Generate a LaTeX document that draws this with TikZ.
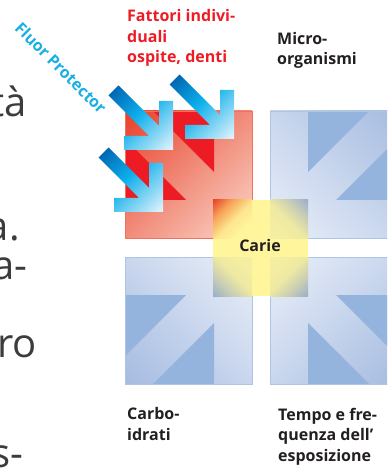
\documentclass[tikz,border=0pt]{standalone}
\usepackage{fontspec}
\setmainfont{Open Sans}
\definecolor{fred}{HTML}{ED1C24}
\definecolor{fcyan}{HTML}{1BAEE6}
\definecolor{fblack}{HTML}{231F20}
\definecolor{fgray}{HTML}{3C3C3C}
\definecolor{rlight}{HTML}{FBD8CB}
\definecolor{rdark}{HTML}{E8412B}
\definecolor{rborder}{HTML}{F2705E}
\definecolor{blight}{HTML}{EBF0F9}
\definecolor{bdark}{HTML}{A6BCE1}
\definecolor{btri}{HTML}{95B4DD}
\definecolor{bborder}{HTML}{AFC5E6}
\definecolor{yel}{HTML}{FFF59D}
\definecolor{yelb}{HTML}{F4EEA2}
\definecolor{ycr}{HTML}{E9452B}
\definecolor{yor}{HTML}{F7A55A}
\definecolor{ymr}{HTML}{FDE58E}
\definecolor{ycb}{HTML}{9BAFC8}
\definecolor{yob}{HTML}{C8CDB5}
\definecolor{ymb}{HTML}{EDE8A3}
\definecolor{fpdark}{HTML}{0068B4}
\definecolor{fpcyan}{HTML}{0DB0EC}
\definecolor{fpmid}{HTML}{5CC8F0}
\definecolor{fplight}{HTML}{EAF7FD}
\pgfdeclarehorizontalshading{fluorsh}{100bp}{color(0bp)=(fpdark); color(20bp)=(fpdark); color(47bp)=(fpcyan); color(60bp)=(fpmid); color(86bp)=(fplight); color(100bp)=(fplight)}
\pgfdeclarehorizontalshading{redsh}{100bp}{color(0bp)=(rlight); color(15bp)=(rlight); color(85bp)=(rdark); color(100bp)=(rdark)}
\pgfdeclarehorizontalshading{bluesh}{100bp}{color(0bp)=(blight); color(15bp)=(blight); color(85bp)=(bdark); color(100bp)=(bdark)}
\pgfdeclarehorizontalshading{yredsh}{100bp}{color(0bp)=(ycr); color(15bp)=(ycr); color(33bp)=(yor); color(52bp)=(ymr); color(70bp)=(yel); color(100bp)=(yel)}
\pgfdeclarehorizontalshading{yblsh}{100bp}{color(0bp)=(ycb); color(15bp)=(ycb); color(33bp)=(yob); color(52bp)=(ymb); color(70bp)=(yelb); color(100bp)=(yelb)}
\newcommand\labfont{\fontsize{16bp}{20.5bp}\selectfont\bfseries}
\tikzset{
  lab/.style={inner sep=0pt, anchor=base west, align=left, font=\labfont, text=fblack},
  frag/.style={inner sep=0pt, anchor=base east, font=\fontsize{40bp}{48bp}\selectfont, text=fgray},
  fparrow/.style={shading=fluorsh, shading angle=-45},
  bluetri/.style={fill=btri},
  redtri/.style={fill=fred}
}
\newcommand\fparr[2]{%
  \shade[fparrow] (#1-54.5,#2-64.5) -- (#1-14,#2-24) -- (#1-14,#2-49) -- (#1,#2-49) -- (#1,#2) -- (#1-49,#2) -- (#1-49,#2-14) -- (#1-24,#2-14) -- (#1-64.5,#2-54.5) -- cycle;}
\begin{document}
\begin{tikzpicture}[x=1bp,y=-1bp]
\useasboundingbox (0,0) rectangle (387,468);
\clip (0,0) rectangle (387,468);
% left page text fragments
\node[frag] (f1) at (27,117) {tà};
\node[frag] (f2) at (20,240) {a.};
\node[frag] (f3) at (28,279) {a-};
\node[frag] (f4) at (37,357) {uro};
\node[frag] (f5) at (24,467) {s-};
% red square (host factors)
\shade[shading=redsh, shading angle=135] (125,111) rectangle (252,238);
\fill[redtri] (214,172) -- (214,111) -- (153,111) -- cycle;
\fill[redtri] (186,200) -- (125,200) -- (125,139) -- cycle;
\draw[rborder, line width=0.6bp] (125,111) rectangle (252,238);
% top right blue
\shade[shading=bluesh, shading angle=45] (270,111) rectangle (397,238);
\fill[bluetri] (308,172) -- (308,111) -- (369,111) -- cycle;
\fill[bluetri] (336,200) -- (397,200) -- (397,139) -- cycle;
\draw[bborder, line width=0.6bp] (270,111) rectangle (397,238);
% bottom left blue
\shade[shading=bluesh, shading angle=225] (125,257) rectangle (252,384);
\fill[bluetri] (214,323) -- (214,384) -- (153,384) -- cycle;
\fill[bluetri] (186,295) -- (125,295) -- (125,356) -- cycle;
\draw[bborder, line width=0.6bp] (125,257) rectangle (252,384);
% bottom right blue
\shade[shading=bluesh, shading angle=-45] (270,257) rectangle (397,384);
\fill[bluetri] (308,323) -- (308,384) -- (369,384) -- cycle;
\fill[bluetri] (336,295) -- (397,295) -- (397,356) -- cycle;
\draw[bborder, line width=0.6bp] (270,257) rectangle (397,384);
% caries square
\fill[yel] (213,200) rectangle (308,296);
\shade[shading=yredsh, shading angle=-45] (213,200) rectangle (252,238);
\shade[shading=yblsh, shading angle=225] (270,200) rectangle (308,238);
\shade[shading=yblsh, shading angle=45] (213,257) rectangle (252,296);
\shade[shading=yblsh, shading angle=135] (270,257) rectangle (308,296);
\node[lab, anchor=base] (carie) at (260,251) {Carie};
% Fluor Protector arrows
\fparr{173}{150}
\fparr{234}{139}
\fparr{163}{212}
% labels
\node[inner sep=0pt, rotate=-45, font=\fontsize{16bp}{18bp}\selectfont\bfseries, text=fcyan] (fp) at (61,68) {Fluor Protector};
\node[lab, text=fred] (host) at (127,63) {Fattori indivi-\\duali\\ospite, denti};
\node[lab] (micro) at (277,65) {Micro-\\organismi};
\node[lab] (carbo) at (127,440) {Carbo-\\idrati};
\node[lab] (tempo) at (278,461) {Tempo e fre-\\quenza dell’\\esposizione};
\end{tikzpicture}
\end{document}
